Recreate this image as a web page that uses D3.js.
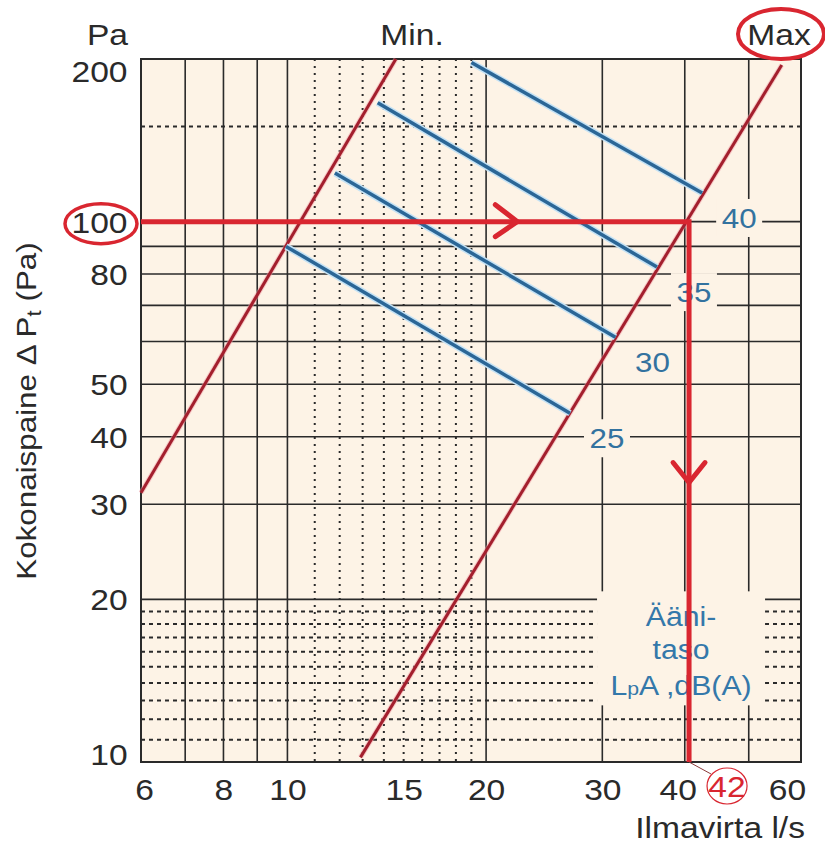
<!DOCTYPE html>
<html>
<head>
<meta charset="utf-8">
<script src="https://cdn.jsdelivr.net/npm/d3@7"></script>
<style>
  body { margin: 0; background: #fff; }
  text { font-family: 'Liberation Sans', Arial, sans-serif; }
</style>
</head>
<body>
<div id="chart"></div>
<script>
// axis ticks
const flowTicks = [6, 8, 10, 15, 20, 30, 40, 60];
const pressureTicks = [10, 20, 30, 40, 50, 80, 100, 200];
// grid
const flowGridMajor = [7, 8, 9, 10, 20, 30, 40, 50];
const flowGridMinor = [11, 12, 13, 14, 15, 16, 17, 18, 19];
const pressureGridMajor = [20, 30, 40, 50, 60, 70, 80, 90, 100];
const pressureGridMinor = [11, 12, 13, 14, 15, 16, 17, 18, 19, 150];
// min / max curves (l/s, Pa)
const minFlow = [6, 14.6];
const minPressure = [31.5, 200];
const maxFlow = [12.9, 56.1];
const maxPressure = [10.2, 195];
// sound level lines dB(A)
const soundLevels = [40, 35, 30, 25];
const soundStartFlow = [19.0, 13.7, 11.8, 9.95];
const soundStartPressure = [197, 166, 123, 90];
const soundEndFlow = [42.5, 36.3, 31.4, 26.8];
const soundEndPressure = [113, 82.4, 61.1, 44.2];
// worked example
const operatingFlow = 40.6;
const operatingPressure = 100;
const readFlow = 42;

let width = 825;
let height = 845;
let margin = { left: 141, right: 24, top: 59, bottom: 83 };
let stretch = 1.12; // the source font is wider than Arial

let x = d3.scaleLog().domain([6, 60]).range([margin.left, width - margin.right]);
let y = d3.scaleLog().domain([10, 200]).range([height - margin.bottom, margin.top]);

let cream = '#fdf3e6';
let ink = '#2a2a2a';
let darkRed = '#a31f2d';
let red = '#d92630';
let blue = '#2b6696';

let svg = d3.select('#chart').append('svg').attr('width', width).attr('height', height);

//plot background
svg.append('rect')
  .attr('x', x(6)).attr('y', y(200))
  .attr('width', x(60) - x(6)).attr('height', y(10) - y(200))
  .attr('fill', cream);

//grid
let grid = svg.append('g').attr('stroke', ink).attr('fill', 'none');
grid.selectAll('.vmaj').data(flowGridMajor).enter().append('line')
  .attr('x1', (d) => x(d)).attr('x2', (d) => x(d))
  .attr('y1', y(200)).attr('y2', y(10))
  .attr('stroke-width', 1.6);
grid.selectAll('.vmin').data(flowGridMinor).enter().append('line')
  .attr('x1', (d) => x(d)).attr('x2', (d) => x(d))
  .attr('y1', y(200)).attr('y2', y(10))
  .attr('stroke-width', 2).attr('stroke-dasharray', '2,5');
grid.selectAll('.hmaj').data(pressureGridMajor).enter().append('line')
  .attr('y1', (d) => y(d)).attr('y2', (d) => y(d))
  .attr('x1', x(6)).attr('x2', x(60))
  .attr('stroke-width', 1.6);
grid.selectAll('.hmin').data(pressureGridMinor).enter().append('line')
  .attr('y1', (d) => y(d)).attr('y2', (d) => y(d))
  .attr('x1', x(6)).attr('x2', x(60))
  .attr('stroke-width', 2).attr('stroke-dasharray', '4,4');
grid.append('rect')
  .attr('x', x(6)).attr('y', y(200))
  .attr('width', x(60) - x(6)).attr('height', y(10) - y(200))
  .attr('stroke-width', 2);

//label offsets from the end of each sound line
let labelDx = 37;
let labelDy = 25;

//cream patches behind labels (hide grid)
svg.append('g').selectAll('rect').data(soundLevels.filter((d) => d !== 30)).enter().append('rect')
  .attr('x', (d) => x(soundEndFlow[soundLevels.indexOf(d)]) + labelDx - 23)
  .attr('y', (d) => y(soundEndPressure[soundLevels.indexOf(d)]) + labelDy - 19)
  .attr('width', 46).attr('height', 38)
  .attr('fill', cream);
let noteX = x(operatingFlow) - 8;
svg.append('rect')
  .attr('x', noteX - 84).attr('y', y(20) - 8)
  .attr('width', 168).attr('height', 114)
  .attr('fill', cream);

//min and max curves
let line = d3.line().x((d) => x(d[0])).y((d) => y(d[1]));
let curves = [d3.zip(minFlow, minPressure), d3.zip(maxFlow, maxPressure)];
svg.append('g').selectAll('path').data(curves).enter().append('path')
  .attr('d', line).attr('fill', 'none')
  .attr('stroke', '#f2a0a8').attr('stroke-width', 5).attr('stroke-opacity', 0.5);
svg.append('g').selectAll('path').data(curves).enter().append('path')
  .attr('d', line).attr('fill', 'none')
  .attr('stroke', darkRed).attr('stroke-width', 3);

//sound level lines
let soundLines = soundLevels.map((d, i) => [
  [soundStartFlow[i], soundStartPressure[i]],
  [soundEndFlow[i], soundEndPressure[i]],
]);
svg.append('g').selectAll('path').data(soundLines).enter().append('path')
  .attr('d', line).attr('fill', 'none')
  .attr('stroke', '#c4e2f5').attr('stroke-width', 6.5);
svg.append('g').selectAll('path').data(soundLines).enter().append('path')
  .attr('d', line).attr('fill', 'none')
  .attr('stroke', blue).attr('stroke-width', 3.5);

svg.append('g').selectAll('text').data(soundLevels).enter().append('text')
  .attr('transform', (d, i) =>
    `translate(${x(soundEndFlow[i]) + labelDx}, ${y(soundEndPressure[i]) + labelDy + 10}) scale(${stretch},1)`)
  .attr('text-anchor', 'middle')
  .attr('font-size', 28)
  .attr('fill', '#33729f')
  .text((d) => d);

//sound level note
let note = svg.append('g').attr('fill', '#3478aa').attr('font-size', 27).attr('text-anchor', 'middle');
note.append('text').attr('transform', `translate(${noteX}, ${y(20) + 27}) scale(${stretch},1)`).text('Ääni-');
note.append('text').attr('transform', `translate(${noteX}, ${y(20) + 60}) scale(${stretch},1)`).text('taso');
let lpa = note.append('text').attr('transform', `translate(${noteX}, ${y(20) + 96}) scale(${stretch},1)`);
lpa.append('tspan').text('L');
lpa.append('tspan').attr('font-size', 19).text('p');
lpa.append('tspan').text('A ,dB(A)');

//worked example arrow
let px = x(operatingFlow);
let py = y(operatingPressure);
svg.append('path')
  .attr('d', `M${x(6)},${py}H${px}V${y(10)}`)
  .attr('fill', 'none').attr('stroke', red).attr('stroke-width', 5);
let hx = x(22.3);
svg.append('path')
  .attr('d', `M${hx - 22},${py - 17}L${hx},${py}L${hx - 22},${py + 15}`)
  .attr('fill', 'none').attr('stroke', red).attr('stroke-width', 5).attr('stroke-linecap', 'round');
let vy = y(32.9);
svg.append('path')
  .attr('d', `M${px - 16},${vy - 20}L${px},${vy}L${px + 16},${vy - 20}`)
  .attr('fill', 'none').attr('stroke', red).attr('stroke-width', 5).attr('stroke-linecap', 'round');

//reading 42 l/s
let cx42 = px + 38;
let cy42 = y(10) + 24;
svg.append('line')
  .attr('x1', px).attr('y1', y(10)).attr('x2', cx42 - 16).attr('y2', cy42 - 12)
  .attr('stroke', '#8a3a3a').attr('stroke-width', 1);
svg.append('ellipse')
  .attr('cx', cx42).attr('cy', cy42).attr('rx', 20).attr('ry', 18)
  .attr('fill', 'none').attr('stroke', red).attr('stroke-width', 1.2);
svg.append('text')
  .attr('transform', `translate(${cx42}, ${cy42 + 11}) scale(${stretch},1)`)
  .attr('text-anchor', 'middle').attr('font-size', 30).attr('fill', red)
  .text(readFlow);

//axes
let yAxis = d3.axisLeft(y).tickValues(pressureTicks).tickSize(0).tickPadding(12).tickFormat((d) => d);
let gy = svg.append('g').attr('transform', `translate(${margin.left}, 0)`).call(yAxis);
gy.select('.domain').remove();
gy.selectAll('text')
  .attr('font-size', 30).attr('fill', ink)
  .attr('font-family', "'Liberation Sans', Arial, sans-serif")
  .attr('transform', `scale(${stretch},1)`)
  .attr('y', (d) => (d === 200 ? 13 : d === 10 ? -7 : 1));

let xShift = { 6: 3, 40: -7, 60: -14 };
let xAxis = d3.axisBottom(x).tickValues(flowTicks).tickSize(0).tickPadding(17).tickFormat((d) => d);
let gx = svg.append('g').attr('transform', `translate(0, ${height - margin.bottom})`).call(xAxis);
gx.select('.domain').remove();
gx.selectAll('text')
  .attr('font-size', 30).attr('fill', ink)
  .attr('font-family', "'Liberation Sans', Arial, sans-serif")
  .attr('transform', `scale(${stretch},1)`)
  .attr('x', (d) => (xShift[d] || 0) / stretch);

//titles
let titles = svg.append('g').attr('fill', ink).attr('font-size', 30);
titles.append('text').attr('transform', `translate(128, 45) scale(${stretch},1)`)
  .attr('text-anchor', 'end').text('Pa');
titles.append('text').attr('transform', `translate(412, 45) scale(${stretch},1)`)
  .attr('text-anchor', 'middle').text('Min.');
titles.append('text').attr('transform', `translate(779, 45) scale(${stretch},1)`)
  .attr('text-anchor', 'middle').text('Max');
titles.append('text').attr('transform', `translate(805, 838) scale(${stretch},1)`)
  .attr('text-anchor', 'end').attr('font-size', 30).text('Ilmavirta l/s');
let yTitle = titles.append('text')
  .attr('transform', `translate(36, 411) rotate(-90) scale(${stretch},1)`)
  .attr('text-anchor', 'middle').attr('font-size', 28);
yTitle.append('tspan').text('Kokonaispaine Δ P');
yTitle.append('tspan').attr('font-size', 20).attr('dy', 5).text('t');
yTitle.append('tspan').attr('dy', -5).text(' (Pa)');

//highlight rings
svg.append('ellipse')
  .attr('cx', 101).attr('cy', py + 2).attr('rx', 36).attr('ry', 20)
  .attr('fill', 'none').attr('stroke', red).attr('stroke-width', 3.5);
svg.append('ellipse')
  .attr('cx', 781).attr('cy', 34).attr('rx', 43).attr('ry', 25)
  .attr('fill', 'none').attr('stroke', red).attr('stroke-width', 4);
</script>
</body>
</html>
